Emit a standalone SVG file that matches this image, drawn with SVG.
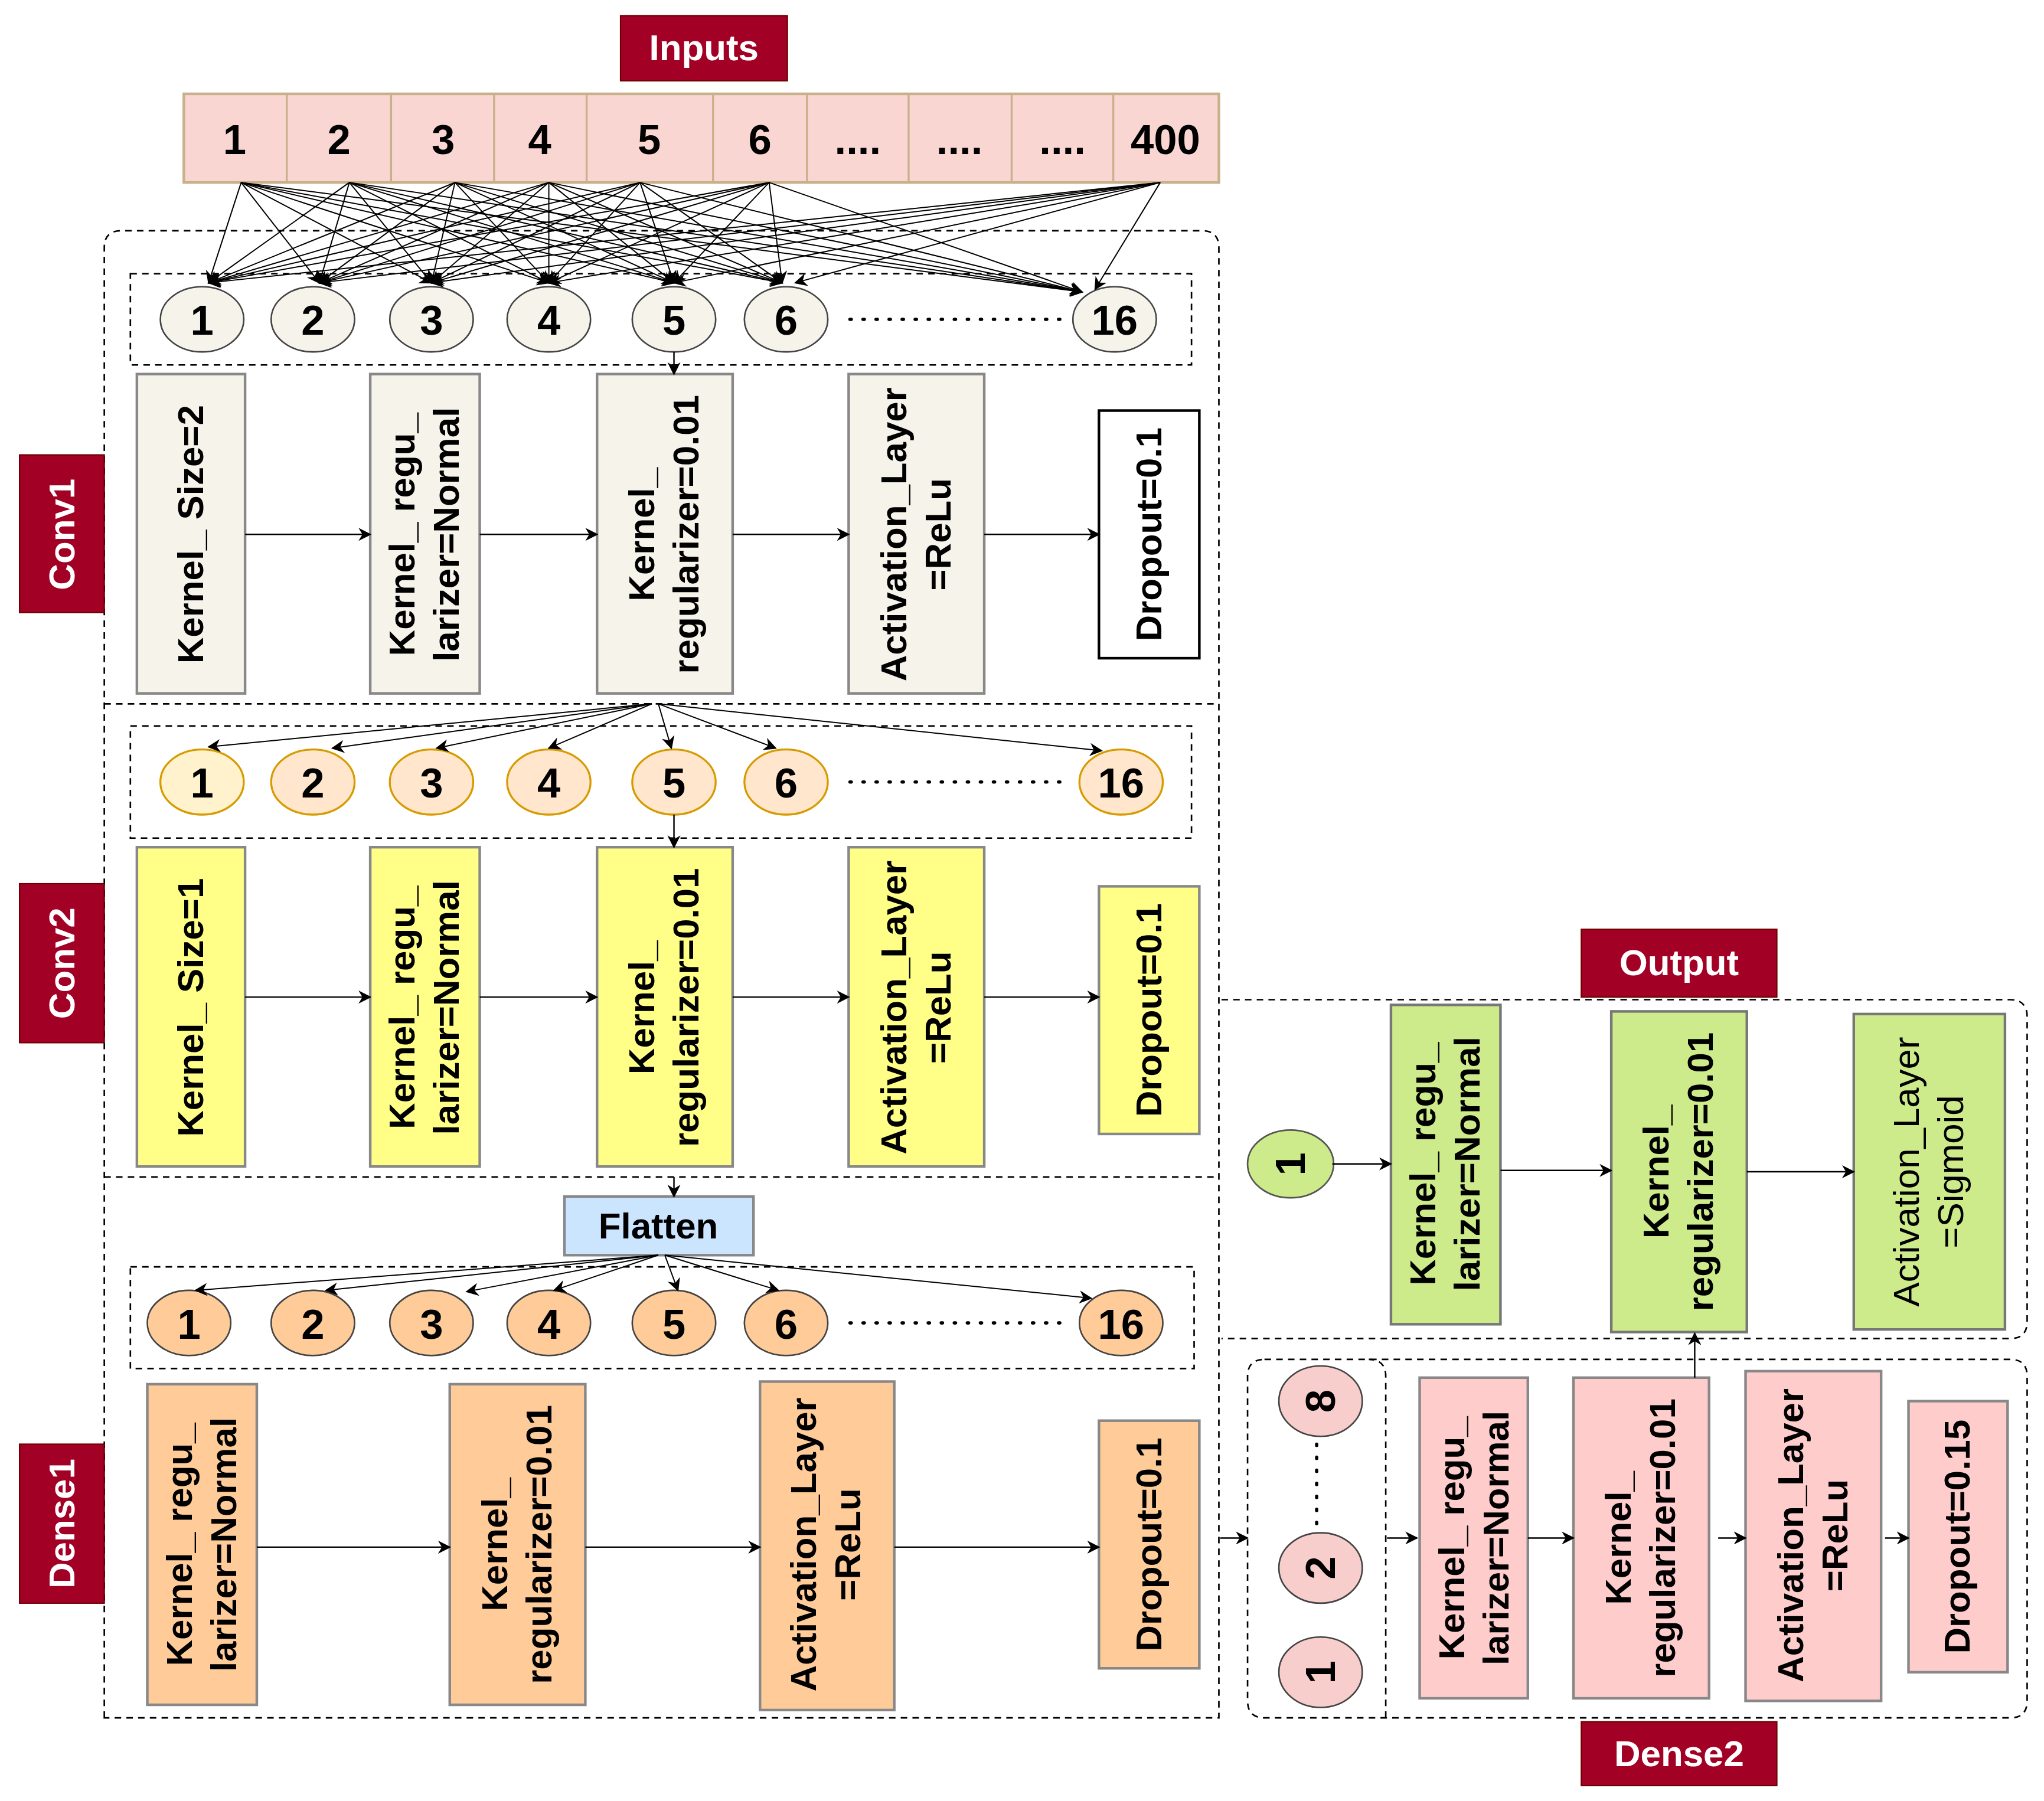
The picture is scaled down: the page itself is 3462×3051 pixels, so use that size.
<svg xmlns="http://www.w3.org/2000/svg" width="3462" height="3051" viewBox="0 0 3462 3051">
<defs>
<marker id="ah" viewBox="0 0 10 10" refX="9" refY="5" markerWidth="10" markerHeight="10" markerUnits="userSpaceOnUse" orient="auto"><path d="M0,0 L10,5 L0,10 L3,5 z" fill="#000"/></marker>
<style>
.lbl{fill:#a20025;stroke:#6f0000;stroke-width:1}
.lt{font-family:"Liberation Sans",Arial,sans-serif;font-weight:bold;font-size:28px;fill:#fff;text-anchor:middle}
.t{font-family:"Liberation Sans",Arial,sans-serif;font-weight:bold;font-size:28px;fill:#000;text-anchor:middle}
.n{font-family:"Liberation Sans",Arial,sans-serif;font-weight:bold;font-size:32px;fill:#000;text-anchor:middle}
.dash{fill:none;stroke:#000;stroke-width:1.2;stroke-dasharray:5 4}
.ln{stroke:#000;stroke-width:1.1;fill:none;marker-end:url(#ah)}
.fl{stroke:#000;stroke-width:0.9;fill:none;marker-end:url(#ah)}
.c1{fill:#f5f3ea;stroke:#444;stroke-width:1.2}
.cream{fill:#f5f3ea;stroke:#888;stroke-width:2}
.yel{fill:#ffff88;stroke:#888;stroke-width:2}
.c2{fill:#ffe6cc;stroke:#d79b00;stroke-width:1.5}
.org{fill:#ffcc99;stroke:#888;stroke-width:2}
.c3{fill:#ffcc99;stroke:#444;stroke-width:1.2}
.grn{fill:#cdeb8b;stroke:#777;stroke-width:2}
.pnk{fill:#ffcccc;stroke:#888;stroke-width:2}
.c4{fill:#f8cecc;stroke:#444;stroke-width:1.2}
</style>
</defs>
<g transform="scale(2.208)">
<g id="containers">
<path class="dash" d="M80,1318 V190 Q80,177 93,177 H922 Q935,177 935,190 V1318 Z"/>
<line class="dash" x1="80" y1="540" x2="935" y2="540"/>
<line class="dash" x1="80" y1="903" x2="935" y2="903"/>
<rect class="dash" x="100" y="210" width="814" height="70"/>
<rect class="dash" x="100" y="557" width="814" height="86"/>
<rect class="dash" x="100" y="972" width="816" height="78"/>
<path class="dash" d="M937,767 H1542 Q1555,767 1555,780 V1014 Q1555,1027 1542,1027 H937"/>
<path class="dash" d="M970,1043 H1542 Q1555,1043 1555,1056 V1305 Q1555,1318 1542,1318 H970 Q957,1318 957,1305 V1056 Q957,1043 970,1043 Z"/>
<path class="dash" d="M1063,1318 V1056 Q1063,1043 1050,1043"/>
</g>
<g id="labels">
<rect class="lbl" x="476" y="12" width="128" height="50"/><text class="lt" x="540" y="46">Inputs</text>
<rect class="lbl" x="15" y="349" width="65" height="121"/><text class="lt" transform="translate(57,410) rotate(-90)">Conv1</text>
<rect class="lbl" x="15" y="678" width="65" height="122"/><text class="lt" transform="translate(57,739) rotate(-90)">Conv2</text>
<rect class="lbl" x="15" y="1108" width="65" height="122"/><text class="lt" transform="translate(57,1169) rotate(-90)">Dense1</text>
<rect class="lbl" x="1213" y="713" width="150" height="52"/><text class="lt" x="1288" y="748">Output</text>
<rect class="lbl" x="1213" y="1321" width="150" height="49"/><text class="lt" x="1288" y="1355">Dense2</text>
</g>
<g id="inputs">
<rect x="141" y="72" width="794" height="68" fill="#f9d6d2" stroke="#c8b08a" stroke-width="2"/>
<g stroke="#c8b08a" stroke-width="1.5"><line x1="220" y1="72" x2="220" y2="140"/><line x1="300" y1="72" x2="300" y2="140"/><line x1="379" y1="72" x2="379" y2="140"/><line x1="450" y1="72" x2="450" y2="140"/><line x1="547" y1="72" x2="547" y2="140"/><line x1="619" y1="72" x2="619" y2="140"/><line x1="697" y1="72" x2="697" y2="140"/><line x1="776" y1="72" x2="776" y2="140"/><line x1="854" y1="72" x2="854" y2="140"/></g>
<g class="n"><text x="180" y="118">1</text><text x="260" y="118">2</text><text x="340" y="118">3</text><text x="414" y="118">4</text><text x="498" y="118">5</text><text x="583" y="118">6</text><text x="658" y="118">....</text><text x="736" y="118">....</text><text x="815" y="118">....</text><text x="894" y="118">400</text></g>
</g>
<g id="conv1">
<g><ellipse class="c1" cx="155" cy="245" rx="32" ry="25"/><ellipse class="c1" cx="240" cy="245" rx="32" ry="25"/><ellipse class="c1" cx="331" cy="245" rx="32" ry="25"/><ellipse class="c1" cx="421" cy="245" rx="32" ry="25"/><ellipse class="c1" cx="517" cy="245" rx="32" ry="25"/><ellipse class="c1" cx="603" cy="245" rx="32" ry="25"/><ellipse class="c1" cx="855" cy="245" rx="32" ry="25"/></g>
<g class="n"><text x="155" y="257">1</text><text x="240" y="257">2</text><text x="331" y="257">3</text><text x="421" y="257">4</text><text x="517" y="257">5</text><text x="603" y="257">6</text><text x="855" y="257">16</text></g>
<line x1="652" y1="245" x2="815" y2="245" stroke="#000" stroke-width="2.5" stroke-dasharray="1 9" stroke-linecap="round"/>
<rect class="cream" x="105" y="287" width="83" height="245"/><text class="t" transform="translate(156,410) rotate(-90)">Kernel_  Size=2</text>
<rect class="cream" x="284" y="287" width="84" height="245"/><text class="t" transform="translate(326,410) rotate(-90)"><tspan x="0" y="-8">Kernel_ regu_</tspan><tspan x="0" y="26">larizer=Normal</tspan></text>
<rect class="cream" x="458" y="287" width="104" height="245"/><text class="t" transform="translate(510,410) rotate(-90)"><tspan x="0" y="-8">Kernel_</tspan><tspan x="0" y="26">regularizer=0.01</tspan></text>
<rect class="cream" x="651" y="287" width="104" height="245"/><text class="t" transform="translate(703,410) rotate(-90)"><tspan x="0" y="-8">Activation_Layer</tspan><tspan x="0" y="26">=ReLu</tspan></text>
<rect x="843" y="315" width="77" height="190" fill="#fff" stroke="#000" stroke-width="2"/><text class="t" transform="translate(891,410) rotate(-90)">Dropout=0.1</text>
</g>
<g id="conv2">
<g><ellipse class="c2" cx="155" cy="600" rx="32" ry="25" fill="#fff2cc" style="fill:#fff2cc"/><ellipse class="c2" cx="240" cy="600" rx="32" ry="25"/><ellipse class="c2" cx="331" cy="600" rx="32" ry="25"/><ellipse class="c2" cx="421" cy="600" rx="32" ry="25"/><ellipse class="c2" cx="517" cy="600" rx="32" ry="25"/><ellipse class="c2" cx="603" cy="600" rx="32" ry="25"/><ellipse class="c2" cx="860" cy="600" rx="32" ry="25"/></g>
<g class="n"><text x="155" y="612">1</text><text x="240" y="612">2</text><text x="331" y="612">3</text><text x="421" y="612">4</text><text x="517" y="612">5</text><text x="603" y="612">6</text><text x="860" y="612">16</text></g>
<line x1="652" y1="600" x2="815" y2="600" stroke="#000" stroke-width="2.5" stroke-dasharray="1 9" stroke-linecap="round"/>
<rect class="yel" x="105" y="650" width="83" height="245"/><text class="t" transform="translate(156,773) rotate(-90)">Kernel_  Size=1</text>
<rect class="yel" x="284" y="650" width="84" height="245"/><text class="t" transform="translate(326,773) rotate(-90)"><tspan x="0" y="-8">Kernel_ regu_</tspan><tspan x="0" y="26">larizer=Normal</tspan></text>
<rect class="yel" x="458" y="650" width="104" height="245"/><text class="t" transform="translate(510,773) rotate(-90)"><tspan x="0" y="-8">Kernel_</tspan><tspan x="0" y="26">regularizer=0.01</tspan></text>
<rect class="yel" x="651" y="650" width="104" height="245"/><text class="t" transform="translate(703,773) rotate(-90)"><tspan x="0" y="-8">Activation_Layer</tspan><tspan x="0" y="26">=ReLu</tspan></text>
<rect class="yel" x="843" y="680" width="77" height="190"/><text class="t" transform="translate(891,775) rotate(-90)">Dropout=0.1</text>
</g>
<g id="flatten">
<rect x="433" y="918" width="145" height="45" fill="#cce5ff" stroke="#888" stroke-width="2"/><text class="t" x="505" y="950">Flatten</text>
</g>
<g id="dense1">
<g><ellipse class="c3" cx="145" cy="1015" rx="32" ry="25"/><ellipse class="c3" cx="240" cy="1015" rx="32" ry="25"/><ellipse class="c3" cx="331" cy="1015" rx="32" ry="25"/><ellipse class="c3" cx="421" cy="1015" rx="32" ry="25"/><ellipse class="c3" cx="517" cy="1015" rx="32" ry="25"/><ellipse class="c3" cx="603" cy="1015" rx="32" ry="25"/><ellipse class="c3" cx="860" cy="1015" rx="32" ry="25"/></g>
<g class="n"><text x="145" y="1027">1</text><text x="240" y="1027">2</text><text x="331" y="1027">3</text><text x="421" y="1027">4</text><text x="517" y="1027">5</text><text x="603" y="1027">6</text><text x="860" y="1027">16</text></g>
<line x1="652" y1="1015" x2="815" y2="1015" stroke="#000" stroke-width="2.5" stroke-dasharray="1 9" stroke-linecap="round"/>
<rect class="org" x="113" y="1062" width="84" height="246"/><text class="t" transform="translate(155,1185) rotate(-90)"><tspan x="0" y="-8">Kernel_ regu_</tspan><tspan x="0" y="26">larizer=Normal</tspan></text>
<rect class="org" x="345" y="1062" width="104" height="246"/><text class="t" transform="translate(397,1185) rotate(-90)"><tspan x="0" y="-8">Kernel_</tspan><tspan x="0" y="26">regularizer=0.01</tspan></text>
<rect class="org" x="583" y="1060" width="103" height="252"/><text class="t" transform="translate(634,1185) rotate(-90)"><tspan x="0" y="-8">Activation_Layer</tspan><tspan x="0" y="26">=ReLu</tspan></text>
<rect class="org" x="843" y="1090" width="77" height="190"/><text class="t" transform="translate(891,1185) rotate(-90)">Dropout=0.1</text>
</g>
<g id="output">
<ellipse cx="990" cy="893" rx="33" ry="26" fill="#cdeb8b" stroke="#555" stroke-width="1.2"/><text class="n" transform="translate(1001,893) rotate(-90)">1</text>
<rect class="grn" x="1067" y="771" width="84" height="245"/><text class="t" transform="translate(1109,893) rotate(-90)"><tspan x="0" y="-8">Kernel_ regu_</tspan><tspan x="0" y="26">larizer=Normal</tspan></text>
<rect class="grn" x="1236" y="776" width="104" height="246"/><text class="t" transform="translate(1288,899) rotate(-90)"><tspan x="0" y="-8">Kernel_</tspan><tspan x="0" y="26">regularizer=0.01</tspan></text>
<rect class="grn" x="1422" y="778" width="116" height="242"/><text class="t" transform="translate(1480,899) rotate(-90)" style="font-weight:normal"><tspan x="0" y="-8">Activation_Layer</tspan><tspan x="0" y="26">=Sigmoid</tspan></text>
</g>
<g id="dense2">
<ellipse class="c4" cx="1013" cy="1075" rx="32" ry="27"/><text class="n" transform="translate(1024,1075) rotate(-90)">8</text>
<ellipse class="c4" cx="1013" cy="1203" rx="32" ry="27"/><text class="n" transform="translate(1024,1203) rotate(-90)">2</text>
<ellipse class="c4" cx="1013" cy="1283" rx="32" ry="27"/><text class="n" transform="translate(1024,1283) rotate(-90)">1</text>
<line x1="1010" y1="1108" x2="1010" y2="1172" stroke="#000" stroke-width="2.5" stroke-dasharray="1 9" stroke-linecap="round"/>
<rect class="pnk" x="1089" y="1057" width="83" height="246"/><text class="t" transform="translate(1131,1180) rotate(-90)"><tspan x="0" y="-8">Kernel_ regu_</tspan><tspan x="0" y="26">larizer=Normal</tspan></text>
<rect class="pnk" x="1207" y="1057" width="104" height="246"/><text class="t" transform="translate(1259,1180) rotate(-90)"><tspan x="0" y="-8">Kernel_</tspan><tspan x="0" y="26">regularizer=0.01</tspan></text>
<rect class="pnk" x="1339" y="1052" width="104" height="253"/><text class="t" transform="translate(1391,1178) rotate(-90)"><tspan x="0" y="-8">Activation_Layer</tspan><tspan x="0" y="26">=ReLu</tspan></text>
<rect class="pnk" x="1464" y="1075" width="76" height="208"/><text class="t" transform="translate(1511,1179) rotate(-90)">Dropout=0.15</text>
</g>
<g id="connectors">
<g class="fl">
<line x1="185" y1="140" x2="160" y2="217"/><line x1="185" y1="140" x2="245" y2="217"/><line x1="185" y1="140" x2="331" y2="217"/><line x1="185" y1="140" x2="421" y2="217"/><line x1="185" y1="140" x2="517" y2="217"/><line x1="185" y1="140" x2="600" y2="217"/><line x1="185" y1="140" x2="830" y2="224"/>
<line x1="268" y1="140" x2="160" y2="217"/><line x1="268" y1="140" x2="245" y2="217"/><line x1="268" y1="140" x2="331" y2="217"/><line x1="268" y1="140" x2="421" y2="217"/><line x1="268" y1="140" x2="517" y2="217"/><line x1="268" y1="140" x2="600" y2="217"/><line x1="268" y1="140" x2="830" y2="224"/>
<line x1="349" y1="140" x2="160" y2="217"/><line x1="349" y1="140" x2="245" y2="217"/><line x1="349" y1="140" x2="331" y2="217"/><line x1="349" y1="140" x2="421" y2="217"/><line x1="349" y1="140" x2="517" y2="217"/><line x1="349" y1="140" x2="600" y2="217"/><line x1="349" y1="140" x2="830" y2="224"/>
<line x1="421" y1="140" x2="160" y2="217"/><line x1="421" y1="140" x2="245" y2="217"/><line x1="421" y1="140" x2="331" y2="217"/><line x1="421" y1="140" x2="421" y2="217"/><line x1="421" y1="140" x2="517" y2="217"/><line x1="421" y1="140" x2="600" y2="217"/><line x1="421" y1="140" x2="830" y2="224"/>
<line x1="491" y1="140" x2="160" y2="217"/><line x1="491" y1="140" x2="245" y2="217"/><line x1="491" y1="140" x2="331" y2="217"/><line x1="491" y1="140" x2="421" y2="217"/><line x1="491" y1="140" x2="517" y2="217"/><line x1="491" y1="140" x2="600" y2="217"/><line x1="491" y1="140" x2="830" y2="224"/>
<line x1="590" y1="140" x2="160" y2="217"/><line x1="590" y1="140" x2="245" y2="217"/><line x1="590" y1="140" x2="331" y2="217"/><line x1="590" y1="140" x2="421" y2="217"/><line x1="590" y1="140" x2="517" y2="217"/><line x1="590" y1="140" x2="600" y2="217"/><line x1="590" y1="140" x2="830" y2="224"/>
<line x1="890" y1="140" x2="160" y2="217"/><line x1="890" y1="140" x2="245" y2="217"/><line x1="890" y1="140" x2="331" y2="217"/><line x1="890" y1="140" x2="421" y2="217"/><line x1="890" y1="140" x2="517" y2="217"/><line x1="890" y1="140" x2="610" y2="217"/><line x1="890" y1="140" x2="840" y2="222"/>
<line x1="500" y1="540" x2="160" y2="573"/><line x1="500" y1="540" x2="255" y2="574"/><line x1="500" y1="540" x2="335" y2="574"/><line x1="500" y1="540" x2="421" y2="574"/><line x1="505" y1="540" x2="515" y2="574"/><line x1="505" y1="540" x2="595" y2="574"/><line x1="505" y1="540" x2="845" y2="576"/>
<line x1="505" y1="963" x2="150" y2="990"/><line x1="505" y1="963" x2="250" y2="990"/><line x1="505" y1="963" x2="358" y2="991"/><line x1="505" y1="963" x2="425" y2="990"/><line x1="510" y1="963" x2="520" y2="990"/><line x1="510" y1="963" x2="597" y2="990"/><line x1="510" y1="963" x2="837" y2="996"/>
</g>
<g class="ln">
<line x1="517" y1="270" x2="517" y2="287"/><line x1="517" y1="625" x2="517" y2="650"/><line x1="517" y1="903" x2="517" y2="918"/>
<line x1="188" y1="410" x2="284" y2="410"/><line x1="368" y1="410" x2="458" y2="410"/><line x1="562" y1="410" x2="651" y2="410"/><line x1="755" y1="410" x2="843" y2="410"/>
<line x1="188" y1="765" x2="284" y2="765"/><line x1="368" y1="765" x2="458" y2="765"/><line x1="562" y1="765" x2="651" y2="765"/><line x1="755" y1="765" x2="843" y2="765"/>
<line x1="197" y1="1187" x2="345" y2="1187"/><line x1="449" y1="1187" x2="583" y2="1187"/><line x1="686" y1="1187" x2="843" y2="1187"/>
<line x1="1022" y1="893" x2="1067" y2="893"/><line x1="1151" y1="898" x2="1236" y2="898"/><line x1="1340" y1="899" x2="1422" y2="899"/>
<line x1="936" y1="1180" x2="957" y2="1180"/><line x1="1064" y1="1180" x2="1087" y2="1180"/><line x1="1172" y1="1180" x2="1207" y2="1180"/><line x1="1318" y1="1180" x2="1339" y2="1180"/><line x1="1446" y1="1180" x2="1464" y2="1180"/>
<line x1="1300" y1="1057" x2="1300" y2="1023"/>
</g>
</g>
</g>
</svg>
